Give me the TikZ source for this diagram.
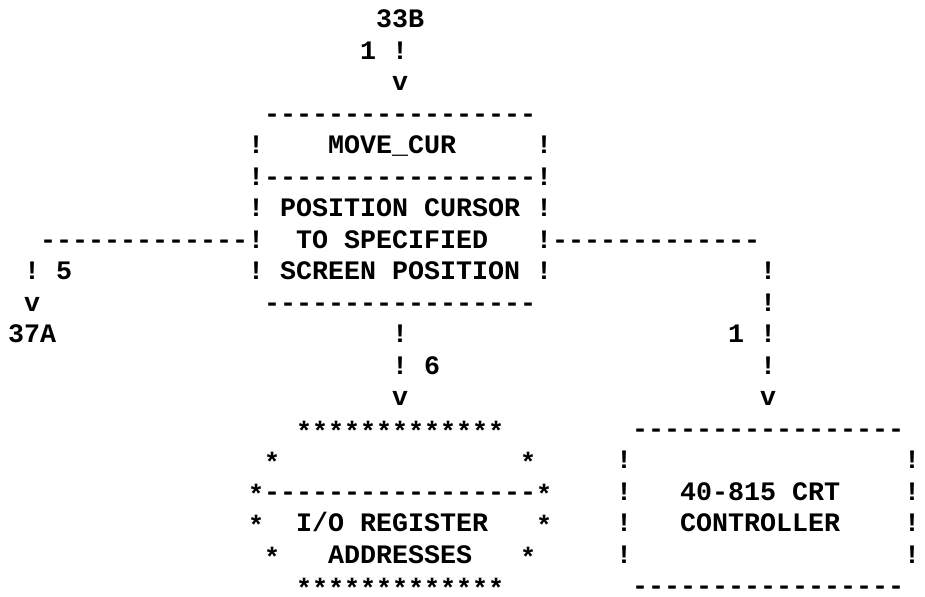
\documentclass[tikz,border=0pt]{standalone}
\usepackage{fontspec}
\setmonofont{Liberation Mono}
\tikzset{ch/.style={font=\fontsize{26.67}{32}\selectfont\ttfamily\bfseries, inner sep=0pt, anchor=base west},
  ast/.style={ch, yshift=-3pt}}
\begin{document}
\begin{tikzpicture}[x=16pt, y=-31.5pt]
\useasboundingbox (0.5,-0.873) rectangle (58.3125,18.079);
\node[ch] (src) at (24,0) {33B};
\node[ch] (inlbl) at (23,1) {1};
\node[ch] (inbar) at (25,1) {!};
\node[ch] (intip) at (25,2) {v};
\node[ch] (mtop) at (17,3) {-----------------};
\node[ch] (ml4) at (16,4) {!};
\node[ch] (mname) at (21,4) {MOVE\_CUR};
\node[ch] (mr4) at (34,4) {!};
\node[ch] (msep) at (16,5) {!-----------------!};
\node[ch] (ml6) at (16,6) {!};
\node[ch] (mtxt1) at (18,6) {POSITION CURSOR};
\node[ch] (mr6) at (34,6) {!};
\node[ch] (lline) at (3,7) {-------------!};
\node[ch] (mtxt2) at (19,7) {TO SPECIFIED};
\node[ch] (rline) at (34,7) {!-------------};
\node[ch] (lbar) at (2,8) {!};
\node[ch] (llbl) at (4,8) {5};
\node[ch] (ml8) at (16,8) {!};
\node[ch] (mtxt3) at (18,8) {SCREEN POSITION};
\node[ch] (mr8) at (34,8) {!};
\node[ch] (rbar1) at (48,8) {!};
\node[ch] (ltip) at (2,9) {v};
\node[ch] (mbot) at (17,9) {-----------------};
\node[ch] (rbar2) at (48,9) {!};
\node[ch] (ldst) at (1,10) {37A};
\node[ch] (dbar1) at (25,10) {!};
\node[ch] (rlbl) at (46,10) {1};
\node[ch] (rbar3) at (48,10) {!};
\node[ch] (dbar2) at (25,11) {!};
\node[ch] (dlbl) at (27,11) {6};
\node[ch] (rbar4) at (48,11) {!};
\node[ch] (dtip) at (25,12) {v};
\node[ch] (rtip) at (48,12) {v};
\node[ast] (iotop) at (19,13) {*************};
\node[ch] (crttop) at (40,13) {-----------------};
\node[ast] (iol14) at (17,14) {*};
\node[ast] (ior14) at (33,14) {*};
\node[ch] (crtl14) at (39,14) {!};
\node[ch] (crtr14) at (57,14) {!};
\node[ast] (iol15) at (16,15) {*};
\node[ch] (iosep) at (17,15) {-----------------};
\node[ast] (ior15) at (34,15) {*};
\node[ch] (crtl15) at (39,15) {!};
\node[ch] (crttxt1) at (43,15) {40-815 CRT};
\node[ch] (crtr15) at (57,15) {!};
\node[ast] (iol16) at (16,16) {*};
\node[ch] (iotxt1) at (19,16) {I/O REGISTER};
\node[ast] (ior16) at (34,16) {*};
\node[ch] (crtl16) at (39,16) {!};
\node[ch] (crttxt2) at (43,16) {CONTROLLER};
\node[ch] (crtr16) at (57,16) {!};
\node[ast] (iol17) at (17,17) {*};
\node[ch] (iotxt2) at (21,17) {ADDRESSES};
\node[ast] (ior17) at (33,17) {*};
\node[ch] (crtl17) at (39,17) {!};
\node[ch] (crtr17) at (57,17) {!};
\node[ast] (iobot) at (19,18) {*************};
\node[ch] (crtbot) at (40,18) {-----------------};
\end{tikzpicture}
\end{document}
